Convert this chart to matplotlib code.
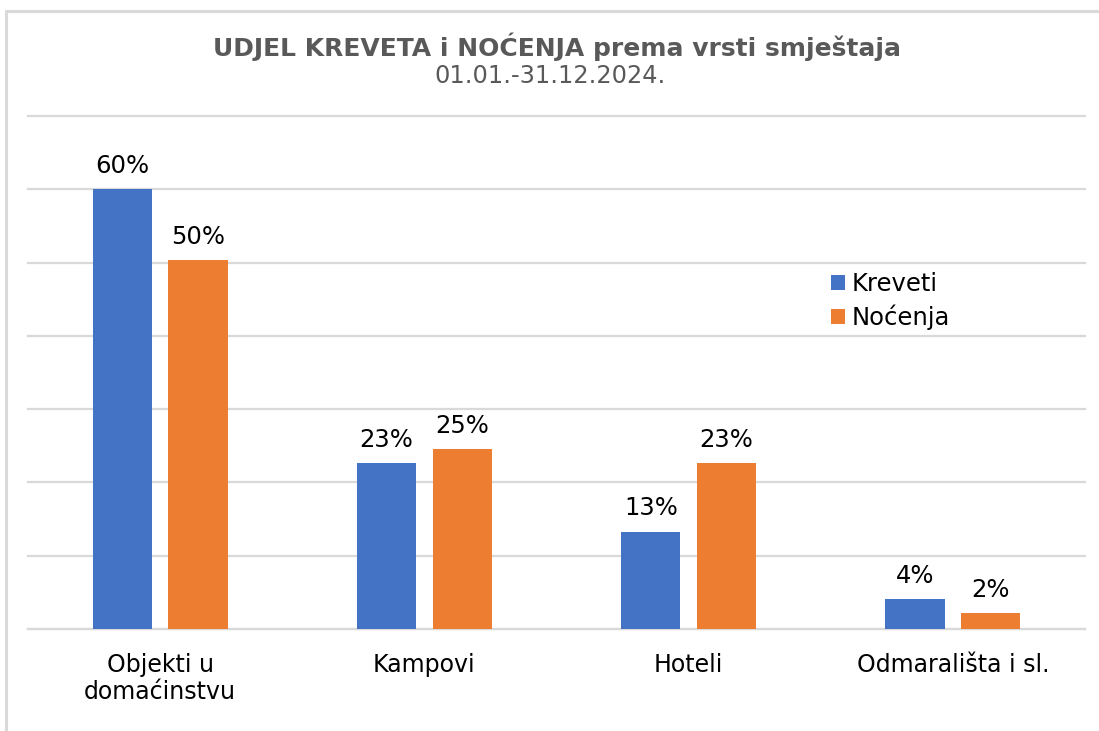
import matplotlib
matplotlib.use("Agg")
import matplotlib.pyplot as plt
from matplotlib.patches import Rectangle
import numpy as np

categories = ["Objekti u\ndomaćinstvu", "Kampovi", "Hoteli", "Odmarališta i sl."]
kreveti = [60.0, 22.6, 13.3, 4.1]
nocenja = [50.3, 24.6, 22.7, 2.2]
series_names = ["Kreveti", "Noćenja"]
title = "UDJEL KREVETA i NOĆENJA prema vrsti smještaja"
subtitle = "01.01.-31.12.2024."

plt.rcParams['font.family'] = ['DejaVu Sans']

W, H = 1099, 731
fig = plt.figure(figsize=(W / 100, H / 100), dpi=100)
fig.patch.set_facecolor('white')

# outer chart border (light gray)
fig.add_artist(Rectangle((6 / W, -0.1), 1.2, 1.1 - 11 / H, transform=fig.transFigure,
                         fill=False, edgecolor='#d9d9d9', linewidth=2.2))

ax = fig.add_axes([28 / W, 1 - 629 / H, (1085 - 28) / W, (629 - 116) / H])
x = np.arange(len(categories))
w = 0.224
off = 0.143
blue = '#4472c4'
orange = '#ed7d31'
b1 = ax.bar(x - off, kreveti, w, color=blue, label=series_names[0], zorder=3)
b2 = ax.bar(x + off, nocenja, w, color=orange, label=series_names[1], zorder=3)

for bars, vals in ((b1, kreveti), (b2, nocenja)):
    for r, v in zip(bars, vals):
        ax.annotate(f"{v:.0f}%", (r.get_x() + r.get_width() / 2, v), xytext=(0, 8),
                    textcoords='offset points', ha='center', va='bottom',
                    fontsize=17.5, color='#000000')

ax.set_xlim(-0.5, 3.5)
ax.set_ylim(0, 70)
ax.set_yticks(np.arange(0, 71, 10))
ax.yaxis.grid(True, color='#d9d9d9', linewidth=1.6, zorder=0)
for gl in ax.get_ygridlines():
    gl.set_clip_on(False)
ax.set_axisbelow(True)
ax.tick_params(axis='y', left=False, labelleft=False)
ax.tick_params(axis='x', bottom=False, pad=14, labelsize=17)
ax.set_xticks(x)
ax.set_xticklabels(categories, color='#000000', linespacing=1.15, va='top')
for s in ['top', 'right', 'left']:
    ax.spines[s].set_visible(False)
ax.spines['bottom'].set_color('#d9d9d9')
ax.spines['bottom'].set_linewidth(1.6)

leg = ax.legend(loc='upper left', bbox_to_anchor=(819 / W, 1 - 260 / H), bbox_transform=fig.transFigure,
                frameon=False, fontsize=17.5, handlelength=0.55, handleheight=0.55,
                handletextpad=0.3, labelspacing=0.35, borderpad=0)

fig.text(557 / W, 1 - 47 / H, title, ha='center', va='center', fontsize=18,
         fontweight='bold', color='#595959')
fig.text(550 / W, 1 - 76 / H, subtitle, ha='center', va='center', fontsize=17.3,
         color='#595959')

fig.savefig('out.png', dpi=100, facecolor='white')
